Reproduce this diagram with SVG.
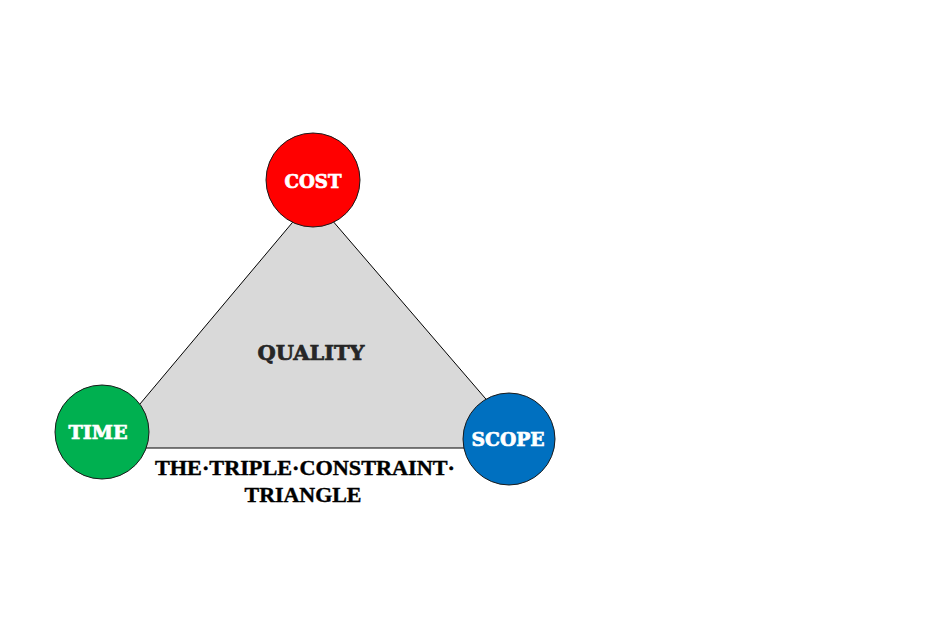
<svg xmlns="http://www.w3.org/2000/svg" width="946" height="640" viewBox="0 0 946 640">
<style>
.node{stroke:#1a1a1a;stroke-width:1}
.lbl{font-family:"DejaVu Serif","Liberation Serif",serif;font-weight:bold;fill:#ffffff;stroke:#ffffff;stroke-width:0.7;font-size:18px;text-anchor:middle}
.cap{font-family:"Liberation Serif",serif;font-weight:bold;fill:#000;stroke:#000;stroke-width:0.4;font-size:21px;text-anchor:middle}
</style>
<rect width="946" height="640" fill="#ffffff"/>
<g id="connectors">
<polygon points="313,198 103,448 528,448" fill="#d9d9d9" stroke="#000" stroke-width="1"/>
</g>
<g id="quality">
<text x="311" y="360" class="lbl" style="fill:#262626;stroke:#262626;font-size:21px" textLength="107" lengthAdjust="spacingAndGlyphs">QUALITY</text>
</g>
<g id="cost">
<circle cx="313" cy="180" r="47" class="node" fill="#ff0000"/>
<text x="313" y="188" class="lbl" textLength="57" lengthAdjust="spacingAndGlyphs">COST</text>
</g>
<g id="time">
<circle cx="102" cy="432" r="47" class="node" fill="#00b050"/>
<text x="98" y="439" class="lbl" textLength="59" lengthAdjust="spacingAndGlyphs">TIME</text>
</g>
<g id="scope">
<circle cx="509" cy="439" r="46" class="node" fill="#0070c0"/>
<text x="508" y="446" class="lbl" textLength="73" lengthAdjust="spacingAndGlyphs">SCOPE</text>
</g>
<g id="caption">
<text x="305" y="475" class="cap" textLength="300" lengthAdjust="spacingAndGlyphs">THE·TRIPLE·CONSTRAINT·</text>
<text x="303" y="502" class="cap" textLength="117" lengthAdjust="spacingAndGlyphs">TRIANGLE</text>
</g>
</svg>
